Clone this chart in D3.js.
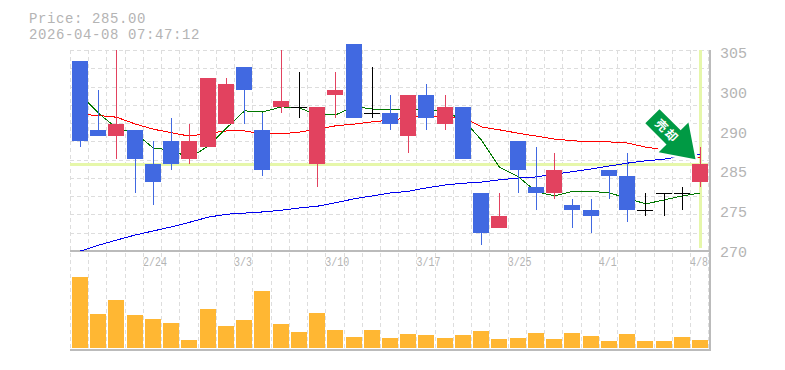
<!DOCTYPE html>
<html><head><meta charset="utf-8">
<script src="https://cdn.jsdelivr.net/npm/d3@7/dist/d3.min.js"></script>
<style>html,body{margin:0;background:#fff}svg{display:block}text{font-family:"Liberation Mono",monospace;fill:#b4b4b4}</style>
</head><body><svg id="c" width="785" height="370"></svg>
<script>
const infoLines=["Price: 285.00","2026-04-08 07:47:12"];
const priceTicks=["305","300","290","285","275","270"];
const dateLabels={4:"2/24",9:"3/3",14:"3/10",19:"3/17",24:"3/25",29:"4/1",34:"4/8"};
const open =[303,291,290,291,285,289,286,288,292,302,291,295,295,285,297,306,294,294,290,297,292,295,280,274,289,281,280,278,277,284,283,277,280,280,282];
const close=[289,290,292,286,282,285,289,300,299,298,284,296,295,295,298,293,294,292,297,293,295,286,273,276,284,280,284,277,276,283,277,277,280,280,285];
const high =[303,298,305,291,289,293,292,300,300,302,294,305,301,295,301,306,302,297,297,299,297,295,280,280,289,288,287,279,279,284,287,280,280,281,288];
const low  =[288,290,286,280,278,284,285,288,292,292,283,294,293,281,293,293,293,291,287,291,291,286,271,274,280,277,279,274,273,279,275,276,276,277,281];
const maShort=[297.2,294.0,291.4,290.5,287.9,287.6,286.2,288.3,291.4,294.4,294.2,295.1,294.9,293.7,293.7,295.2,294.7,294.7,294.6,294.6,294.2,292.8,289.3,284.6,282.9,280.3,279.6,280.4,280.4,280.1,279.2,278.2,278.9,279.6,280.1];
const maMid=[293.8,293.6,293.3,292.1,291.2,290.6,290.0,290.5,290.9,290.9,290.4,290.4,290.7,291.2,291.8,292.1,292.5,292.8,293.2,293.5,293.4,293.2,291.6,291.1,290.5,290.0,289.5,289.2,289.0,289.0,288.8,288.1,287.6,286.9,286.2];
const maLong=[270.0,271.0,271.9,272.8,273.5,274.2,275.0,275.9,276.4,276.6,276.8,277.1,277.5,277.8,278.4,279.1,279.6,280.1,280.4,281.0,281.5,281.8,282.0,282.4,282.7,282.9,283.4,283.8,284.3,284.8,285.3,285.7,286.0,286.5,286.9];
const volume=[71,34,48,33,29,25,8,39,22,28,57,24,16,35,18,11,18,10,14,13,10,13,17,9,10,15,9,15,12,7,14,7,7,11,8];
const currentPrice=285;
const signalText="売却";
const index=d3.range(volume.length);
const L=70,R=710,T=50,M=251,B=350;
const x=d3.scaleBand().domain(index).range([L,L+35*18.235]);
const cx=i=>Math.floor(x(i)+x.bandwidth()/2+1.38);
const y=d3.scaleLinear().domain([270,305]).range([M,T]);
const v=d3.scaleLinear().domain([0,71]).range([348,277]);
const tickY=d3.scalePoint().domain(priceTicks).range([53,252]);
const svg=d3.select("#c");
const grid=svg.append("g").attr("stroke","#ddd").attr("stroke-dasharray","4 3").attr("stroke-width",1).attr("shape-rendering","crispEdges");
index.forEach(i=>grid.append("line").attr("x1",Math.round(x(i))+.5).attr("x2",Math.round(x(i))+.5).attr("y1",T).attr("y2",B));
grid.append("line").attr("x1",708.5).attr("x2",708.5).attr("y1",T).attr("y2",B);
d3.range(0,11).forEach(k=>{const yy=Math.round(T+k*(M-T)/11)+.5;grid.append("line").attr("x1",L).attr("x2",R).attr("y1",yy).attr("y2",yy);});
svg.append("rect").attr("x",L).attr("width",638).attr("y",Math.floor(y(currentPrice))-1).attr("height",3).attr("fill","#e6f7aa");
svg.append("rect").attr("x",cx(34)-1).attr("width",3).attr("y",T).attr("height",198).attr("fill","#e6f7aa");
const frame=svg.append("g").attr("stroke","#bbb").attr("stroke-width",2).attr("shape-rendering","crispEdges");
frame.append("line").attr("x1",L).attr("x2",R+1).attr("y1",M).attr("y2",M);
frame.append("line").attr("x1",L).attr("x2",R+1).attr("y1",B).attr("y2",B);
frame.append("line").attr("x1",R).attr("x2",R).attr("y1",T).attr("y2",B+1);
const lineOf=(vals,col,w)=>svg.append("path").attr("d",d3.line().x((d,i)=>cx(i)+.5).y(d=>y(d))(vals)).attr("fill","none").attr("stroke",col).attr("stroke-width",w).attr("shape-rendering","crispEdges");
lineOf(maLong,"#0000ee",1);lineOf(maMid,"#ff0000",1);lineOf(maShort,"#007700",1);
const colOf=i=>close[i]>open[i]?"#e2425f":close[i]<open[i]?"#4169e1":"#000";
const cg=svg.append("g").attr("shape-rendering","crispEdges");
index.forEach(i=>{
 const c=colOf(i),px=cx(i);
 cg.append("line").attr("x1",px+.5).attr("x2",px+.5).attr("y1",Math.floor(y(high[i]))).attr("y2",Math.floor(y(low[i]))).attr("stroke",c).attr("stroke-width",1);
 const t=Math.floor(y(Math.max(open[i],close[i]))),b=Math.floor(y(Math.min(open[i],close[i])));
 cg.append("rect").attr("x",px-8).attr("width",16).attr("y",t).attr("height",Math.max(1,b-t)).attr("fill",c);
 cg.append("rect").attr("x",px-8).attr("width",16).attr("y",Math.round(v(volume[i]))).attr("height",348-Math.round(v(volume[i]))).attr("fill","#ffb733");
});
infoLines.forEach((s,i)=>svg.append("text").text(s).attr("x",29).attr("y",23+i*16).attr("font-size",14).attr("letter-spacing",.6));
priceTicks.forEach(s=>svg.append("text").text(s).attr("x",720).attr("y",tickY(s)+5).attr("font-size",15));
Object.entries(dateLabels).forEach(([i,s])=>svg.append("text").text(s).attr("x",x(+i)).attr("y",266).attr("font-size",12).attr("textLength",s.length*6).attr("lengthAdjust","spacingAndGlyphs"));
const tip=[695.5,y(currentPrice)-5.5];
const arrow=svg.append("g").attr("transform",`translate(${tip[0]},${tip[1]}) rotate(45)`);
arrow.append("path").attr("d",d3.line()([[0,0],[-31,-21],[-31,-10],[-61,-10],[-61,10],[-31,10],[-31,21]])+"Z").attr("fill","#009a44").attr("stroke","#fff").attr("stroke-width",5).attr("stroke-linejoin","round").attr("paint-order","stroke");
arrow.append("text").text(signalText).attr("x",-54).attr("y",4.5).attr("font-size",12).attr("font-weight","bold").attr("letter-spacing",2).style("fill","#fff").style("font-family","'Noto Sans CJK JP'");
</script></body></html>
